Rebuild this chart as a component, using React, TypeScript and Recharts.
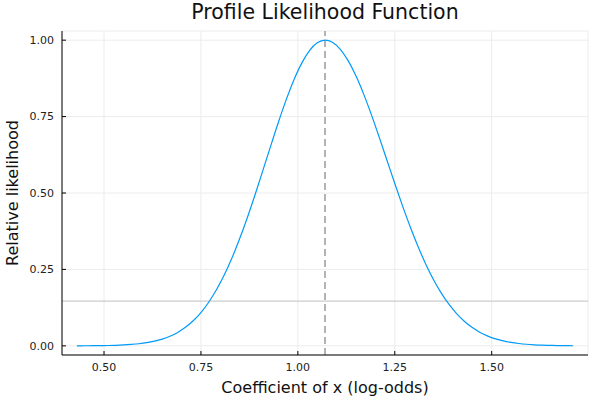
import { LineChart, Line, XAxis, YAxis, CartesianGrid, ReferenceLine } from 'recharts';

// coefficient grid (log-odds) and relative likelihood
const coef = [
  0.43, 0.45, 0.47, 0.49, 0.51, 0.53, 0.55, 0.57, 0.59, 0.61, 0.63, 0.65, 0.67, 0.69, 0.71, 0.73, 0.75,
  0.77, 0.79, 0.81, 0.83, 0.85, 0.87, 0.89, 0.91, 0.93, 0.95, 0.97, 0.99, 1.01, 1.03, 1.05, 1.07,
  1.09, 1.11, 1.13, 1.15, 1.17, 1.19, 1.21, 1.23, 1.25, 1.27, 1.29, 1.31, 1.33, 1.35, 1.37, 1.39,
  1.41, 1.43, 1.45, 1.47, 1.49, 1.51, 1.53, 1.55, 1.57, 1.59, 1.61, 1.63, 1.65, 1.67, 1.69, 1.71,
];

const relLik = [
  0.0001, 0.0002, 0.0004, 0.0007, 0.0011, 0.0018, 0.0029, 0.0045, 0.0068, 0.0103, 0.0152, 0.022,
  0.0313, 0.0439, 0.0605, 0.0819, 0.109, 0.1426, 0.1833, 0.2316, 0.2875, 0.3509, 0.4208, 0.496,
  0.5747, 0.6543, 0.7323, 0.8054, 0.8707, 0.925, 0.966, 0.9914, 1.0,
  0.9922, 0.9692, 0.9321, 0.8825, 0.8226, 0.7548, 0.6819, 0.6065, 0.5311, 0.4578, 0.3886, 0.3247,
  0.2671, 0.2163, 0.1724, 0.1353, 0.1046, 0.0796, 0.0596, 0.0439, 0.0319, 0.0228, 0.016, 0.0111,
  0.0076, 0.0051, 0.0034, 0.0022, 0.0014, 0.0009, 0.0006, 0.0003,
];

const xTicks = [0.5, 0.75, 1.0, 1.25, 1.5];
const yTicks = [0, 0.25, 0.5, 0.75, 1.0];

const mle = 1.07;
const cutoff = 0.1465; // exp(-3.84 / 2)

const data = coef.map((x, i) => ({ x, y: relLik[i] }));

const font = '"DejaVu Sans", sans-serif';
const tickStyle = { fontSize: 11, fill: '#222', fontFamily: font };

export default function App() {
  return (
    <div style={{ position: 'absolute', left: 0, top: 0, width: 600, height: 400, background: '#fff' }}>
      <div
        style={{
          position: 'absolute',
          left: 62,
          width: 526,
          top: 0,
          textAlign: 'center',
          fontFamily: font,
          fontSize: 20.5,
          color: '#111',
          lineHeight: '24px',
        }}
      >
        Profile Likelihood Function
      </div>
      <LineChart width={600} height={400} data={data} margin={{ top: 31, right: 12, left: 0, bottom: 0 }}>
        <CartesianGrid stroke="#ececec" strokeWidth={1} />
        <XAxis
          dataKey="x"
          type="number"
          domain={[0.3916, 1.7484]}
          allowDataOverflow
          ticks={xTicks}
          tickFormatter={(v: number) => v.toFixed(2)}
          tick={tickStyle}
          tickSize={-4}
          tickMargin={12}
          tickLine={{ stroke: '#000' }}
          axisLine={{ stroke: '#000' }}
          height={45}
          label={{
            value: 'Coefficient of x (log-odds)',
            position: 'insideBottom',
            offset: 7,
            style: { fontSize: 16, fill: '#111', fontFamily: font },
          }}
        />
        <YAxis
          type="number"
          domain={[-0.03, 1.03]}
          allowDataOverflow
          ticks={yTicks}
          tickFormatter={(v: number) => v.toFixed(2)}
          tick={tickStyle}
          tickSize={-4}
          tickMargin={12}
          tickLine={{ stroke: '#000' }}
          axisLine={{ stroke: '#000' }}
          width={62}
          label={{
            value: 'Relative likelihood',
            angle: -90,
            position: 'insideLeft',
            offset: 12,
            style: { fontSize: 16, fill: '#111', fontFamily: font, textAnchor: 'middle' },
          }}
        />
        <ReferenceLine y={cutoff} stroke="#cccccc" strokeWidth={1.2} />
        <ReferenceLine x={mle} stroke="#8c8c8c" strokeWidth={1.3} strokeDasharray="7 4" />
        <Line
          type="monotone"
          dataKey="y"
          stroke="#009af9"
          strokeWidth={1.2}
          dot={false}
          isAnimationActive={false}
        />
      </LineChart>
    </div>
  );
}
